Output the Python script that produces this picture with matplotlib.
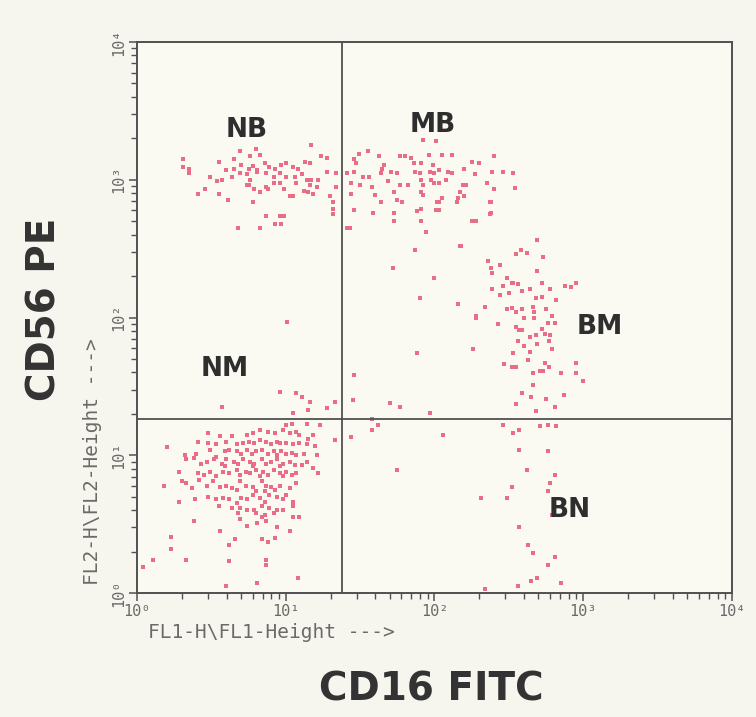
import numpy as np
import matplotlib
matplotlib.use('Agg')
import matplotlib.pyplot as plt
from matplotlib.ticker import FixedLocator, FixedFormatter, NullFormatter

# events, as (log10 FL1-H, log10 FL2-H)
nb_events = [
    (0.31, 3.15), (0.31, 3.09), (0.35, 3.08), (0.35, 3.05), (0.55, 3.13), (0.65, 3.15),
    (0.69, 3.21), (0.76, 3.17), (0.80, 3.22), (0.83, 3.18), (0.60, 3.07), (0.65, 3.08),
    (0.70, 3.11), (0.75, 3.08), (0.78, 3.10), (0.81, 3.07), (0.86, 3.12), (0.89, 3.09),
    (0.93, 3.08), (0.97, 3.11), (1.00, 3.12), (1.05, 3.09), (1.08, 3.08), (1.13, 3.13),
    (1.16, 3.12), (1.17, 3.25), (1.24, 3.17), (1.28, 3.16), (0.49, 3.02), (0.54, 2.99),
    (0.57, 3.00), (0.64, 3.02), (0.69, 3.05), (0.74, 3.04), (0.76, 3.00), (0.81, 3.06),
    (0.87, 3.05), (0.92, 3.02), (0.96, 3.05), (1.00, 3.02), (1.06, 3.02), (1.11, 3.04),
    (1.14, 3.00), (1.17, 3.00), (1.22, 3.00), (1.28, 3.06), (1.34, 3.05), (1.34, 2.95),
    (1.30, 2.88), (1.32, 2.84), (1.32, 2.79), (1.32, 2.75), (0.46, 2.93), (0.41, 2.90),
    (0.55, 2.90), (0.61, 2.85), (0.75, 2.96), (0.79, 2.93), (0.83, 2.91), (0.87, 2.95),
    (0.88, 2.93), (0.99, 2.93), (1.03, 2.88), (1.05, 2.88), (1.12, 2.92), (1.15, 2.91),
    (1.18, 2.90), (0.78, 2.84), (0.87, 2.74), (0.96, 2.74), (0.99, 2.74), (0.93, 2.68),
    (0.97, 2.68), (0.68, 2.65), (0.83, 2.65), (0.74, 2.96), (0.92, 2.98), (0.96, 2.98),
    (1.07, 2.98), (1.16, 2.96), (1.21, 2.95),
]

mb_events = [
    (1.92, 3.29), (2.01, 3.28), (1.49, 3.19), (1.55, 3.21), (1.46, 3.15), (1.47, 3.12),
    (1.63, 3.17), (1.66, 3.11), (1.65, 3.08), (1.77, 3.17), (1.80, 3.17), (1.84, 3.16),
    (1.86, 3.12), (1.91, 3.12), (1.96, 3.18), (1.99, 3.11), (2.05, 3.18), (2.12, 3.18),
    (2.25, 3.13), (2.30, 3.12), (2.40, 3.17), (1.41, 3.05), (1.46, 3.06), (1.52, 3.02),
    (1.56, 3.02), (1.64, 3.05), (1.71, 3.06), (1.75, 3.05), (1.87, 3.06), (1.90, 3.05),
    (1.97, 3.06), (2.00, 3.05), (2.03, 3.07), (2.09, 3.06), (2.12, 3.05), (2.20, 3.08),
    (2.27, 3.04), (2.39, 3.06), (2.46, 3.06), (2.53, 3.05), (1.44, 2.98), (1.50, 2.96),
    (1.58, 2.95), (1.69, 2.99), (1.77, 2.96), (1.82, 2.96), (1.91, 3.00), (1.92, 2.96),
    (1.98, 3.00), (2.00, 2.98), (2.03, 2.98), (2.08, 3.00), (2.19, 2.96), (2.21, 2.96),
    (2.35, 2.98), (2.40, 2.93), (2.54, 2.94), (1.44, 2.90), (1.60, 2.89), (1.73, 2.91),
    (1.91, 2.91), (1.92, 2.89), (2.17, 2.91), (2.20, 2.88), (1.64, 2.84), (1.75, 2.85),
    (1.78, 2.84), (2.02, 2.84), (2.05, 2.87), (2.15, 2.84), (2.16, 2.87), (2.37, 2.84),
    (2.38, 2.76), (1.46, 2.78), (1.59, 2.76), (1.73, 2.76), (1.88, 2.77), (1.91, 2.79),
    (2.01, 2.78), (2.03, 2.78), (1.73, 2.70), (1.91, 2.70), (2.25, 2.70), (2.27, 2.70),
    (1.41, 2.65), (1.43, 2.65), (1.94, 2.62),
]

bm_events = [
    (2.18, 2.52), (2.69, 2.56), (2.55, 2.46), (2.58, 2.49), (2.62, 2.47), (2.73, 2.44),
    (2.36, 2.41), (2.38, 2.36), (2.39, 2.32), (2.44, 2.38), (2.69, 2.34), (2.49, 2.29),
    (2.52, 2.25), (2.53, 2.25), (2.56, 2.24), (2.72, 2.25), (2.39, 2.21), (2.46, 2.23),
    (2.59, 2.19), (2.64, 2.21), (2.78, 2.21), (2.88, 2.23), (2.92, 2.22), (2.95, 2.25),
    (2.44, 2.16), (2.50, 2.18), (2.68, 2.14), (2.72, 2.15), (2.82, 2.13), (2.34, 2.08),
    (2.49, 2.06), (2.52, 2.07), (2.55, 2.04), (2.59, 2.06), (2.66, 2.08), (2.67, 2.04),
    (2.75, 2.06), (2.79, 2.01), (2.28, 2.00), (2.43, 1.95), (2.60, 2.00), (2.67, 2.00),
    (2.76, 1.96), (2.81, 1.96), (2.55, 1.93), (2.57, 1.91), (2.59, 1.91), (2.72, 1.92),
    (2.64, 1.86), (2.68, 1.87), (2.74, 1.88), (2.78, 1.87), (2.26, 1.77), (2.56, 1.83),
    (2.60, 1.79), (2.69, 1.81), (2.77, 1.83), (2.53, 1.74), (2.64, 1.75), (2.79, 1.77),
    (2.47, 1.66), (2.52, 1.64), (2.55, 1.64), (2.63, 1.69), (2.66, 1.60), (2.71, 1.61),
    (2.74, 1.67), (2.77, 1.64), (2.73, 1.61), (2.85, 1.60), (2.95, 1.67), (2.95, 1.60),
    (3.00, 1.54), (2.66, 1.51), (2.59, 1.45), (2.65, 1.42), (2.75, 1.41), (2.87, 1.44),
    (2.55, 1.37), (2.81, 1.35), (2.68, 1.32),
]

bn_events = [
    (2.46, 1.22), (2.53, 1.16), (2.57, 1.18), (2.71, 1.21), (2.76, 1.22), (2.82, 1.21),
    (2.57, 1.04), (2.76, 1.03), (2.62, 0.89), (2.81, 0.86), (2.78, 0.80), (2.52, 0.77),
    (2.76, 0.74), (2.31, 0.69), (2.49, 0.69), (2.79, 0.57), (2.57, 0.48), (2.63, 0.35),
    (2.66, 0.29), (2.81, 0.26), (2.76, 0.20), (2.65, 0.09), (2.69, 0.11), (2.85, 0.07),
    (2.56, 0.05), (2.34, 0.03), (1.45, 1.40), (1.70, 1.38), (1.77, 1.35), (1.58, 1.26),
    (1.58, 1.18), (1.62, 1.22), (1.44, 1.13), (1.75, 0.89), (1.97, 1.31), (2.06, 1.15),
]

stray_events = [
    (1.91, 2.79), (2.01, 2.78), (2.03, 2.84), (2.25, 2.70), (2.28, 2.70), (2.37, 2.75),
    (2.38, 2.84), (1.94, 2.62), (1.87, 2.49), (2.17, 2.52), (2.00, 2.29), (2.16, 2.10),
    (2.28, 2.01), (1.88, 1.74), (1.72, 2.36), (1.90, 2.14), (1.01, 1.97), (1.46, 1.58),
    (0.57, 1.35), (0.96, 1.46), (1.07, 1.45), (1.11, 1.42), (1.16, 1.39), (1.05, 1.31),
    (1.15, 1.33), (1.28, 1.34), (1.33, 1.39),
]

nm_events = [
    (1.00, 1.22), (1.04, 1.23), (1.14, 1.23), (1.23, 1.22), (0.83, 1.18), (0.88, 1.17),
    (0.93, 1.16), (0.98, 1.18), (1.03, 1.16), (1.07, 1.17), (1.09, 1.15), (1.15, 1.12),
    (1.18, 1.15), (1.33, 1.11), (0.48, 1.16), (0.56, 1.14), (0.64, 1.14), (0.74, 1.15),
    (0.78, 1.16), (0.20, 1.06), (0.41, 1.10), (0.48, 1.09), (0.60, 1.10), (0.67, 1.08),
    (0.71, 1.09), (0.75, 1.10), (0.79, 1.09), (0.83, 1.11), (0.87, 1.10), (0.90, 1.08),
    (0.94, 1.10), (0.96, 1.09), (1.00, 1.09), (1.05, 1.08), (1.09, 1.09), (1.14, 1.08),
    (1.20, 1.07), (0.53, 1.08), (0.32, 1.00), (0.40, 1.01), (0.49, 1.04), (0.59, 1.03),
    (0.62, 1.04), (0.67, 1.03), (0.70, 1.01), (0.74, 1.04), (0.77, 1.01), (0.80, 1.03),
    (0.84, 1.04), (0.88, 1.01), (0.92, 1.03), (0.94, 1.00), (0.97, 1.03), (1.00, 1.01),
    (1.04, 1.02), (1.07, 1.00), (1.12, 1.01), (1.21, 1.00), (0.53, 0.99), (0.33, 0.97),
    (0.38, 0.98), (0.43, 0.94), (0.47, 0.95), (0.52, 0.97), (0.57, 0.94), (0.60, 0.97),
    (0.65, 0.95), (0.68, 0.94), (0.71, 0.97), (0.76, 0.95), (0.79, 0.94), (0.84, 0.97),
    (0.87, 0.94), (0.90, 0.95), (0.94, 0.97), (0.98, 0.94), (1.03, 0.95), (1.06, 0.93),
    (1.11, 0.93), (1.14, 0.95), (1.18, 0.91), (0.59, 0.92), (0.78, 0.92), (0.96, 0.92),
    (0.28, 0.88), (0.41, 0.87), (0.45, 0.86), (0.49, 0.88), (0.53, 0.85), (0.58, 0.88),
    (0.62, 0.87), (0.67, 0.89), (0.69, 0.86), (0.73, 0.88), (0.76, 0.87), (0.80, 0.89),
    (0.85, 0.88), (0.88, 0.86), (0.92, 0.89), (0.96, 0.87), (1.00, 0.88), (1.04, 0.86),
    (1.07, 0.87), (1.22, 0.87), (0.83, 0.85), (0.98, 0.85), (0.18, 0.78), (0.30, 0.81),
    (0.33, 0.80), (0.37, 0.76), (0.42, 0.82), (0.47, 0.78), (0.51, 0.81), (0.56, 0.77),
    (0.60, 0.78), (0.64, 0.76), (0.69, 0.81), (0.73, 0.78), (0.78, 0.77), (0.84, 0.81),
    (0.87, 0.78), (0.90, 0.77), (0.93, 0.75), (0.96, 0.78), (1.03, 0.76), (1.07, 0.80),
    (0.67, 0.75), (0.80, 0.74), (0.86, 0.74), (0.28, 0.66), (0.39, 0.68), (0.48, 0.70),
    (0.53, 0.68), (0.58, 0.69), (0.62, 0.68), (0.67, 0.65), (0.70, 0.69), (0.74, 0.68),
    (0.78, 0.71), (0.83, 0.69), (0.86, 0.66), (0.89, 0.71), (0.94, 0.70), (0.98, 0.68),
    (1.05, 0.66), (1.00, 0.71), (0.55, 0.63), (0.64, 0.62), (0.69, 0.62), (0.74, 0.60),
    (0.79, 0.60), (0.84, 0.63), (0.89, 0.62), (0.94, 0.60), (0.80, 0.58), (0.86, 0.57),
    (0.92, 0.58), (0.98, 0.60), (1.05, 0.63), (0.69, 0.54), (0.84, 0.55), (0.38, 0.52),
    (0.68, 0.58), (0.74, 0.49), (0.81, 0.51), (0.87, 0.52), (0.94, 0.48), (1.05, 0.55),
    (1.09, 0.55), (0.56, 0.45), (1.03, 0.45), (0.23, 0.41), (0.66, 0.39), (0.84, 0.39),
    (0.88, 0.37), (0.93, 0.40), (0.23, 0.32), (0.62, 0.35), (0.11, 0.24), (0.33, 0.24),
    (0.62, 0.23), (0.87, 0.24), (0.87, 0.20), (0.04, 0.19), (1.08, 0.11), (0.81, 0.07),
    (0.60, 0.05),
]

# quadrant gate (FL1, FL2) and quadrant names
gate_fl1 = 23.8
gate_fl2 = 18.2
quad_names = ['NB', 'MB', 'NM', 'BM', 'BN']
quad_pos = [(5.5, 2300), (98, 2500), (3.9, 42), (1300, 85), (810, 4.0)]

major_ticks = [1, 10, 100, 1000, 10000]
tick_labels = ['10⁰', '10¹', '10²', '10³', '10⁴']

paper = '#f7f6ee'
ink = '#505050'
dot = '#ea6d88'

fig = plt.figure(figsize=(7.56, 7.17), dpi=100, facecolor=paper)
ax = fig.add_axes([0.1812, 0.1729, 0.7870, 0.7685])
ax.set_facecolor('#fafaf3')

events = np.array(nb_events + mb_events + bm_events + bn_events + stray_events + nm_events)
ax.scatter(10 ** events[:, 0], 10 ** events[:, 1], s=5, c=dot, marker='s',
           linewidths=0, zorder=2)

ax.set_xscale('log')
ax.set_yscale('log')
ax.set_xlim(1, 10000)
ax.set_ylim(1, 10000)

# gate lines
ax.axvline(gate_fl1, color=ink, lw=1.3, zorder=3)
ax.axhline(gate_fl2, color=ink, lw=1.3, zorder=3)

for name, (qx, qy) in zip(quad_names, quad_pos):
    ax.text(qx, qy, name, fontsize=19, fontweight='bold', color='#2e2e2e',
            ha='center', va='center', family='DejaVu Sans')

mono = 'DejaVu Sans Mono'
for axis in (ax.xaxis, ax.yaxis):
    axis.set_major_locator(FixedLocator(major_ticks))
    axis.set_major_formatter(FixedFormatter(tick_labels))
    axis.set_minor_formatter(NullFormatter())
ax.tick_params(which='major', direction='out', length=6, width=1.1, color=ink,
               labelsize=11, labelcolor='#6a6a6a', pad=2)
ax.tick_params(which='minor', direction='out', length=4, width=1.0, color=ink)
for lab in ax.get_xticklabels():
    lab.set_family(mono)
for lab in ax.get_yticklabels():
    lab.set_family(mono)
    lab.set_rotation(90)
    lab.set_va('center')

for sp in ax.spines.values():
    sp.set_color(ink)
    sp.set_linewidth(1.4)

# instrument axis labels
ax.text(0.018, -0.072, r'FL1-H\FL1-Height --->', transform=ax.transAxes,
        fontsize=14, family=mono, color='#6a6a6a', ha='left', va='center')
ax.text(-0.074, 0.015, r'FL2-H\FL2-Height --->', transform=ax.transAxes,
        fontsize=14, family=mono, color='#6a6a6a', rotation=90,
        ha='center', va='bottom')

# marker labels
fig.text(0.0595, 0.568, 'CD56 PE', rotation=90, fontsize=28, fontweight='bold',
         color='#333333', ha='center', va='center', family='DejaVu Sans')
fig.text(0.571, 0.038, 'CD16 FITC', fontsize=28, fontweight='bold',
         color='#333333', ha='center', va='center', family='DejaVu Sans')

plt.savefig('out.png', dpi=100, facecolor=paper)
